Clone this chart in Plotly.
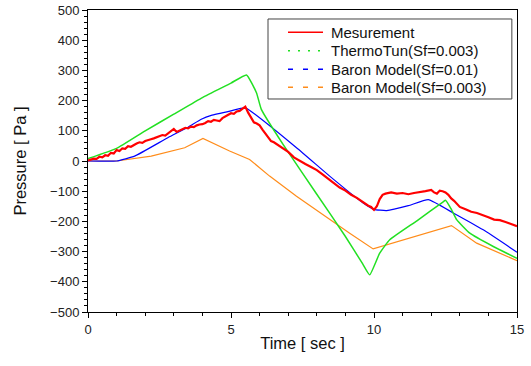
import plotly.graph_objects as go

# Measurement
meas_t = [0.0, 0.1, 0.2, 0.3, 0.4, 0.5, 0.6, 0.7, 0.8, 0.9, 1.0, 1.1, 1.2, 1.3, 1.4, 1.5, 1.6, 1.7,
          1.8, 1.9, 2.0, 2.1, 2.2, 2.3, 2.4, 2.5, 2.6, 2.7, 2.8, 2.9, 3.0, 3.1, 3.2, 3.3, 3.4, 3.5,
          3.6, 3.7, 3.8, 3.9, 4.0, 4.1, 4.2, 4.3, 4.4, 4.5, 4.6, 4.7, 4.8, 4.9, 5.0, 5.1, 5.2, 5.3,
          5.4, 5.5, 5.6, 5.7, 5.8, 5.9, 6.0, 6.1, 6.2, 6.3, 6.4, 6.5, 6.6, 6.7, 6.8, 6.9, 7.0, 7.2,
          7.4, 7.6, 7.8, 8.0, 8.2, 8.4, 8.6, 8.8, 9.0, 9.2, 9.4, 9.6, 9.8, 9.9, 10.0, 10.1,
          10.2, 10.3, 10.4, 10.6, 10.8, 11.0, 11.2, 11.4, 11.6, 11.8, 12.0, 12.1, 12.2, 12.3, 12.4,
          12.5, 12.6, 12.7, 12.8, 13.0, 13.2, 13.4, 13.6, 13.8, 14.0, 14.2, 14.4, 14.6, 14.8, 15.0]
meas_p = [2, 4, 8, 7, 14, 12, 19, 17, 27, 25, 36, 33, 42, 40, 49, 47, 54, 58,
          62, 60, 66, 70, 72, 75, 78, 81, 86, 84, 92, 98, 106, 96, 100, 106, 110, 108,
          114, 112, 118, 121, 122, 126, 132, 130, 136, 134, 132, 142, 148, 152, 158, 156, 164, 166,
          172, 180, 160, 146, 128, 124, 118, 104, 90, 76, 66, 62, 56, 50, 44, 38, 30, 12,
          0, -10, -20, -30, -44, -58, -74, -88, -98, -112, -122, -136, -148, -152, -162, -150,
          -126, -112, -108, -104, -108, -106, -110, -106, -104, -100, -96, -104, -108, -98, -100,
          -104, -112, -124, -132, -152, -160, -168, -172, -178, -186, -194, -196, -202, -210, -216]

# ThermoTun (Sf=0.003)
thermo_t = [0.0, 1.0, 2.0, 3.0, 4.0, 5.0, 5.54, 5.89, 6.06, 6.82, 8.0, 9.0, 9.6, 9.85, 10.2,
            10.55, 11.5, 12.42, 12.5, 12.71, 12.89, 13.35, 14.17, 15.0]
thermo_p = [8, 42, 100, 155, 210, 258, 285, 226, 171, 55, -110, -250, -340, -377, -305,
            -261, -198, -135, -130, -161, -194, -239, -283, -322]

# Baron Model (Sf=0.01)
baron1_t = [0.0, 1.0, 1.63, 2.79, 3.5, 3.96, 4.31, 5.0, 5.5, 7.29, 8.45, 9.62, 10.0, 10.44,
            11.2, 11.9, 12.77, 13.82, 15.0]
baron1_p = [0, 0, 16, 77, 112, 138, 151, 166, 176, 44, -50, -139, -160, -164,
            -148, -128, -172, -228, -302]

# Baron Model (Sf=0.003)
baron2_t = [0.0, 1.0, 2.21, 3.38, 4.02, 4.95, 5.65, 6.35, 7.29, 8.45, 9.15, 9.97, 12.71,
            13.59, 15.0]
baron2_p = [0, 0, 16, 44, 75, 33, 5, -50, -117, -194, -239, -291, -214,
            -272, -330]

legend_names = ["Mesurement", "ThermoTun(Sf=0.003)", "Baron Model(Sf=0.01)", "Baron Model(Sf=0.003)"]

RED = "#ff0000"
GREEN = "#22e022"
BLUE = "#0000ff"
ORANGE = "#ff8c1a"
FONT = "Liberation Sans, Arial, sans-serif"

series = [
    (meas_t, meas_p, RED, 2.2, "solid", "linear"),
    (thermo_t, thermo_p, GREEN, 1.5, "2px,8px", "spline"),
    (baron1_t, baron1_p, BLUE, 1.2, "5px,10px", "spline"),
    (baron2_t, baron2_p, ORANGE, 1.2, "5px,10px", "linear"),
]

fig = go.Figure()
for (t, p, col, w, _, shp), name in reversed(list(zip(series, legend_names))):
    fig.add_trace(go.Scatter(x=t, y=p, mode="lines", name=name, showlegend=False,
                             line=dict(color=col, width=w, shape=shp, smoothing=0.4)))

axis_common = dict(
    showgrid=False, zeroline=False, showline=True, linecolor="black", linewidth=1,
    mirror=True, ticks="outside", ticklen=5, tickwidth=1, tickcolor="black",
    tickfont=dict(family=FONT, size=13, color="#222"), automargin=False,
)
fig.update_xaxes(range=[0, 15], tick0=0, dtick=5,
                 minor=dict(ticks="outside", ticklen=3, dtick=1, tickcolor="black"),
                 title=dict(text="Time [ sec ]", font=dict(family=FONT, size=16.5, color="#111"), standoff=1),
                 **axis_common)
fig.update_yaxes(range=[-500, 500], tick0=0, dtick=100,
                 minor=dict(ticks="outside", ticklen=3, dtick=20, tickcolor="black"),
                 title=dict(text="Pressure [ Pa ]", font=dict(family=FONT, size=16.5, color="#111"), standoff=19),
                 **axis_common)

# legend box (drawn with shapes and annotations for exact row spacing)
fig.add_shape(type="rect", xref="paper", yref="paper", x0=0.4196, x1=0.988, y0=0.7053, y1=0.9702,
              line=dict(color="#444", width=1), fillcolor="white", layer="above")
row_y = [0.9262, 0.8652, 0.8036, 0.7440]
for (t, p, col, w, dash, _), name, ry in zip(series, legend_names, row_y):
    fig.add_shape(type="line", xref="paper", yref="paper", x0=0.4662, x1=0.5478, y0=ry, y1=ry,
                  line=dict(color=col, width=1.5, dash=dash), layer="above")
    fig.add_annotation(xref="paper", yref="paper", x=0.5618, y=ry, text=name, showarrow=False,
                       xanchor="left", yanchor="middle",
                       font=dict(family=FONT, size=15, color="#111"))

fig.update_layout(
    width=531, height=366,
    margin=dict(l=88, r=14, t=10, b=54),
    plot_bgcolor="white", paper_bgcolor="white",
    showlegend=False,
)

fig.write_html("out.html")
